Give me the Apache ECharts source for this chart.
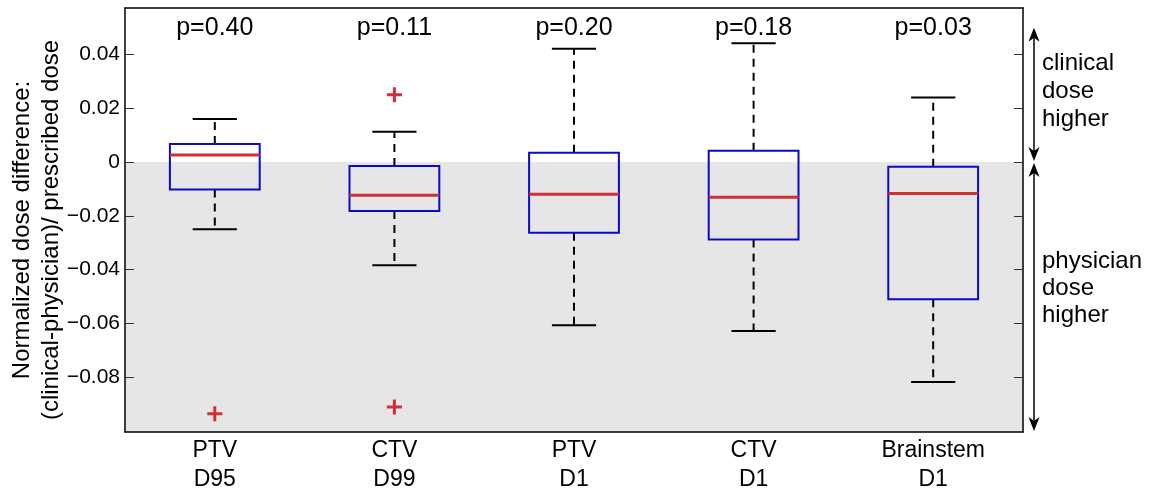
<!DOCTYPE html>
<html>
<head>
<meta charset="utf-8">
<script src="https://cdn.jsdelivr.net/npm/echarts@6/dist/echarts.min.js"></script>
<style>
  html, body { margin: 0; padding: 0; background: #fff; }
  #chart { width: 1150px; height: 494px; }
</style>
</head>
<body>
<div id="chart"></div>
<script>
// Box statistics per structure / dose metric
const categories = ['PTV\nD95', 'CTV\nD99', 'PTV\nD1', 'CTV\nD1', 'Brainstem\nD1'];
const whiskerLow  = [-0.0250, -0.0384, -0.0607, -0.0628, -0.0818];
const quartile1   = [-0.0102, -0.0182, -0.0263, -0.0288, -0.0510];
const medians     = [ 0.0026, -0.0123, -0.0120, -0.0131, -0.0117];
const quartile3   = [ 0.0067, -0.0015,  0.0035,  0.0042, -0.0017];
const whiskerHigh = [ 0.0160,  0.0113,  0.0421,  0.0442,  0.0240];
const outliers = [[0, -0.0936], [1, 0.0250], [1, -0.0911]];
const pValues = ['p=0.40', 'p=0.11', 'p=0.20', 'p=0.18', 'p=0.03'];
const yTicks = [-0.08, -0.06, -0.04, -0.02, 0, 0.02, 0.04];
const yMin = -0.1004, yMax = 0.0573;
const pLabelY = 0.0500;
const arrowTop = 0.05, arrowBottom = -0.1;
const clinicalText = 'clinical\ndose\nhigher', clinicalY = 0.0264;
const physicianText = 'physician\ndose\nhigher', physicianY = -0.0469;

const FONT = '"Liberation Sans", Arial, sans-serif';
const BLUE = '#0a0ac8', RED = '#cf2f37';

const boxData = categories.map((c, i) =>
  [i, whiskerLow[i], quartile1[i], medians[i], quartile3[i], whiskerHigh[i]]);

function renderBox(params, api) {
  const i = api.value(0);
  const x = api.coord([i, 0])[0];
  const band = api.size([1, 0])[0];
  const hb = band * 0.25, hc = band * 0.123;
  const y = v => api.coord([i, v])[1];
  const lo = y(api.value(1)), q1 = y(api.value(2)), md = y(api.value(3)),
        q3 = y(api.value(4)), hi = y(api.value(5));
  const dash = { stroke: '#000', lineWidth: 2, lineDash: [8, 6] };
  const solid = { stroke: '#000', lineWidth: 2 };
  return {
    type: 'group',
    children: [
      { type: 'line', shape: { x1: x, y1: q3, x2: x, y2: hi }, style: dash },
      { type: 'line', shape: { x1: x, y1: q1, x2: x, y2: lo }, style: dash },
      { type: 'line', shape: { x1: x - hc, y1: hi, x2: x + hc, y2: hi }, style: solid },
      { type: 'line', shape: { x1: x - hc, y1: lo, x2: x + hc, y2: lo }, style: solid },
      { type: 'rect', shape: { x: x - hb, y: q3, width: 2 * hb, height: q1 - q3 },
        style: { fill: null, stroke: BLUE, lineWidth: 2 } },
      { type: 'line', shape: { x1: x - hb, y1: md, x2: x + hb, y2: md },
        style: { stroke: RED, lineWidth: 3 } },
      { type: 'text', x: x, y: y(pLabelY),
        style: { text: pValues[i], fill: '#000', fontSize: 25, fontFamily: FONT,
                 align: 'center', verticalAlign: 'middle' } }
    ]
  };
}

function arrowHead(x, tipY, dir) {
  // dir = +1 pointing down, -1 pointing up
  const L = 14, W = 5.5, notch = 10;
  return {
    type: 'polygon',
    shape: { points: [[x, tipY], [x - W, tipY - dir * L], [x, tipY - dir * notch], [x + W, tipY - dir * L]] },
    style: { fill: '#000' }
  };
}

function renderSide(params, api) {
  const cs = params.coordSys;
  const ax = cs.x + cs.width + 11;
  const tx = ax + 8;
  const yT = api.coord([0, arrowTop])[1];
  const y0 = api.coord([0, 0])[1];
  const yB = api.coord([0, arrowBottom])[1];
  const line = { stroke: '#000', lineWidth: 1.5 };
  return {
    type: 'group',
    children: [
      { type: 'line', shape: { x1: ax, y1: yT + 4, x2: ax, y2: y0 - 5 }, style: line },
      arrowHead(ax, yT, -1),
      arrowHead(ax, y0 - 1, 1),
      { type: 'line', shape: { x1: ax, y1: y0 + 5, x2: ax, y2: yB - 4 }, style: line },
      arrowHead(ax, y0 + 1, -1),
      arrowHead(ax, yB, 1),
      { type: 'text', x: tx, y: api.coord([0, clinicalY])[1],
        style: { text: clinicalText, fill: '#000', fontSize: 24, fontFamily: FONT,
                 lineHeight: 28, align: 'left', verticalAlign: 'middle' } },
      { type: 'text', x: tx, y: api.coord([0, physicianY])[1],
        style: { text: physicianText, fill: '#000', fontSize: 24, fontFamily: FONT,
                 lineHeight: 27, align: 'left', verticalAlign: 'middle' } }
    ]
  };
}

const tickFmt = v => v === 0 ? '0' : (v < 0 ? '\u2212' : '') + Math.abs(v).toFixed(2);
const frame = { show: true, onZero: false, lineStyle: { color: '#000', width: 1.5 } };

const chart = echarts.init(document.getElementById('chart'), null, { renderer: 'canvas' });
chart.setOption({
  animation: false,
  backgroundColor: '#fff',
  grid: { left: 125, right: 127, top: 8, bottom: 62, containLabel: false, outerBoundsMode: 'none' },
  xAxis: [
    { type: 'category', data: categories, position: 'bottom', boundaryGap: true, z: 10,
      axisLine: frame, axisTick: { show: false }, splitLine: { show: false },
      axisLabel: { interval: 0, fontSize: 23, lineHeight: 29, color: '#000', fontFamily: FONT, margin: 4 } },
    { type: 'category', data: categories, position: 'top', boundaryGap: true, z: 10,
      axisLine: frame, axisTick: { show: false }, axisLabel: { show: false }, splitLine: { show: false } }
  ],
  yAxis: [
    { type: 'value', min: yMin, max: yMax, position: 'left', z: 10,
      name: 'Normalized dose difference:\n(clinical-physician)/ prescribed dose',
      nameLocation: 'middle', nameGap: 59, nameRotate: 90, nameMoveOverlap: false,
      nameTextStyle: { fontSize: 24, lineHeight: 29, color: '#000', fontFamily: FONT, padding: [0, 20, 0, 0] },
      axisLine: frame, splitLine: { show: false },
      axisTick: { show: true, inside: true, length: 9, customValues: yTicks, lineStyle: { color: '#333', width: 1 } },
      axisLabel: { customValues: yTicks, formatter: tickFmt, fontSize: 21, color: '#000', fontFamily: FONT, margin: 5 } },
    { type: 'value', min: yMin, max: yMax, position: 'right', z: 10,
      axisLine: frame, splitLine: { show: false },
      axisTick: { show: true, inside: true, length: 9, customValues: yTicks, lineStyle: { color: '#333', width: 1 } },
      axisLabel: { show: false } }
  ],
  series: [
    { type: 'custom', xAxisIndex: 0, yAxisIndex: 0, data: boxData, renderItem: renderBox, clip: false,
      markArea: { silent: true, itemStyle: { color: '#e6e6e6', opacity: 1 },
                  data: [[{ yAxis: 0 }, { yAxis: yMin }]] } },
    { type: 'scatter', xAxisIndex: 0, yAxisIndex: 0, data: outliers,
      symbol: 'path://M4,0H6V4H10V6H6V10H4V6H0V4H4Z', symbolSize: 15,
      itemStyle: { color: RED, opacity: 1 } },
    { type: 'custom', xAxisIndex: 0, yAxisIndex: 0, data: [[0]], renderItem: renderSide, clip: false, silent: true }
  ]
});
</script>
</body>
</html>
